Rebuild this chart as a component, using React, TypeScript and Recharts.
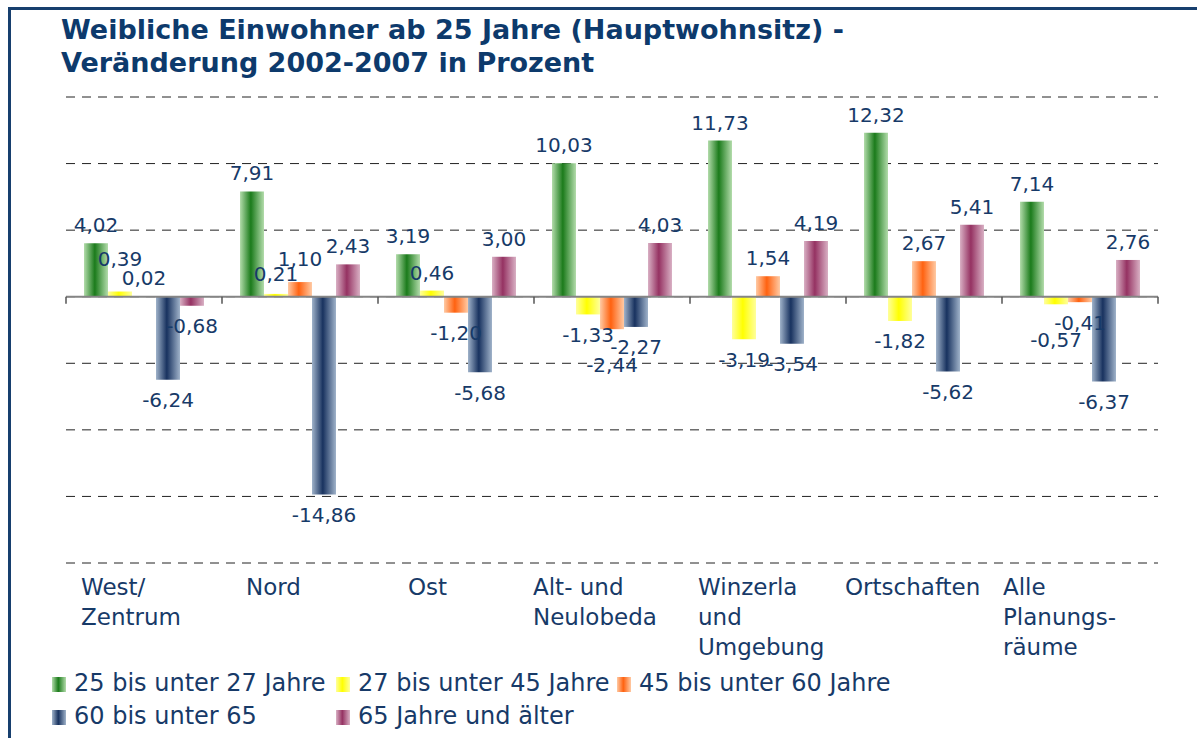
import React from "react";
import { BarChart, Bar, XAxis, YAxis, CartesianGrid, ReferenceLine, LabelList } from "recharts";

const CATEGORIES = ["West/ Zentrum", "Nord", "Ost", "Alt- und Neulobeda", "Winzerla und Umgebung", "Ortschaften", "Alle Planungsräume"];
const CATEGORY_LINES = [["West/", "Zentrum"], ["Nord"], ["Ost"], ["Alt- und", "Neulobeda"], ["Winzerla", "und", "Umgebung"], ["Ortschaften"], ["Alle", "Planungs-", "räume"]];

const AGE_25_27 = [4.02, 7.91, 3.19, 10.03, 11.73, 12.32, 7.14];
const AGE_27_45 = [0.39, 0.21, 0.46, -1.33, -3.19, -1.82, -0.57];
const AGE_45_60 = [0.02, 1.1, -1.2, -2.44, 1.54, 2.67, -0.41];
const AGE_60_65 = [-6.24, -14.86, -5.68, -2.27, -3.54, -5.62, -6.37];
const AGE_65_PLUS = [-0.68, 2.43, 3.0, 4.03, 4.19, 5.41, 2.76];

const SERIES_NAMES = ["25 bis unter 27 Jahre", "27 bis unter 45 Jahre", "45 bis unter 60 Jahre", "60 bis unter 65", "65 Jahre und älter"];
const Y_TICKS = [-20, -15, -10, -5, 0, 5, 10, 15];

const data = CATEGORIES.map((name, i) => ({
  name,
  a: AGE_25_27[i],
  b: AGE_27_45[i],
  c: AGE_45_60[i],
  d: AGE_60_65[i],
  e: AGE_65_PLUS[i],
}));

// edge colour / centre colour of the cylinder-like bars
const SERIES = [
  { key: "a", edge: "#b3dcab", mid: "#1b7b1b" },
  { key: "b", edge: "#ffff9c", mid: "#ffff00" },
  { key: "c", edge: "#ffcaa4", mid: "#ff6210" },
  { key: "d", edge: "#a0b3ca", mid: "#18325f" },
  { key: "e", edge: "#d9b0c4", mid: "#953262" },
];

// vertical nudges the original applied to crowded labels
const LABEL_DY = [
  [0, 0, 0, 0, 0, 0, 0],
  [-15, -2, 0, 0, 0, 0, 15],
  [0, -5, 0, 15, 0, 0, 0],
  [0, 0, 0, 0, 0, 0, 0],
  [0, 0, 0, 0, 0, 0, 0],
];

const TEXT = "#173a68";
const FONT = "'DejaVu Sans', Verdana, sans-serif";
const W = 1197;
const H = 738;
const PLOT_LEFT = 66;
const PLOT_RIGHT = 1158;
const PLOT_TOP = 97;
const PLOT_BOTTOM = 563;
const BAND = (PLOT_RIGHT - PLOT_LEFT) / CATEGORIES.length;
const TICK_INDENT = [15, 24, 30, -1, 8, -1, 1];

const fmt = (v: any) => Number(v).toFixed(2).replace(".", ",");

const makeLabel = (si: number) => (props: any) => {
  const vb = props.viewBox || props;
  const x = Number(vb.x);
  const y = Number(vb.y);
  const w = Number(vb.width);
  const h = Number(vb.height);
  const v = Number(props.value);
  const idx = props.index ?? 0;
  const top = Math.min(y, y + h);
  const bottom = Math.max(y, y + h);
  const cx = x + w / 2;
  const dy = LABEL_DY[si][idx] || 0;
  if (v >= 0) {
    return (
      <text x={cx} y={top - 11 + dy} textAnchor="middle" fill={TEXT} fontSize={20} fontFamily={FONT}>
        {fmt(v)}
      </text>
    );
  }
  return (
    <text x={cx} y={bottom + 13 + 14.5 + dy} textAnchor="middle" fill={TEXT} fontSize={20} fontFamily={FONT}>
      {fmt(v)}
    </text>
  );
};

function CategoryTick(props: any) {
  const { x, y, payload } = props;
  const i = payload.index;
  const left = x - BAND / 2 + TICK_INDENT[i];
  return (
    <text x={left} y={y} fill={TEXT} fontSize={23} fontFamily={FONT} textAnchor="start">
      {CATEGORY_LINES[i].map((line, k) => (
        <tspan key={k} x={left} y={y + 32 + k * 30}>
          {line}
        </tspan>
      ))}
    </text>
  );
}

function ZeroAxis(props: any) {
  const { x1, x2, y1 } = props;
  const n = CATEGORIES.length;
  const step = (x2 - x1) / n;
  return (
    <g>
      <line x1={x1} x2={x2} y1={y1} y2={y1} stroke="#858585" strokeWidth={2} />
      {Array.from({ length: n + 1 }, (_, i) => (
        <line key={i} x1={x1 + i * step} x2={x1 + i * step} y1={y1} y2={y1 + 7} stroke="#555" strokeWidth={1.5} />
      ))}
    </g>
  );
}

function LegendBox() {
  const cols = [52, 336, 617];
  return (
    <div style={{ position: "absolute", left: 0, top: 667, fontFamily: FONT, fontSize: 24, color: TEXT }}>
      {SERIES_NAMES.map((name, i) => {
        const s = SERIES[i];
        const row = Math.floor(i / 3);
        const col = i % 3;
        return (
          <div
            key={name}
            style={{ position: "absolute", left: cols[col], top: row * 33, height: 33, lineHeight: "33px", whiteSpace: "nowrap" }}
          >
            <span
              style={{
                position: "absolute",
                left: 0,
                top: 10,
                width: 14,
                height: 15,
                background: `linear-gradient(to right, ${s.edge}, ${s.mid} 45%, ${s.edge})`,
              }}
            />
            <span style={{ position: "absolute", left: 22, top: 0 }}>{name}</span>
          </div>
        );
      })}
    </div>
  );
}

export default function App() {
  return (
    <div style={{ position: "absolute", left: 0, top: 0, width: W, height: H, background: "#fff", overflow: "hidden" }}>
      <div
        style={{
          position: "absolute",
          left: 8,
          top: 7,
          width: W,
          height: H,
          borderLeft: "3px solid #173f6e",
          borderTop: "3px solid #173f6e",
        }}
      />
      <div
        style={{
          position: "absolute",
          left: 61,
          top: 13,
          fontFamily: FONT,
          fontWeight: "bold",
          fontSize: 27,
          lineHeight: "33px",
          color: "#0d3a6c",
          whiteSpace: "nowrap",
        }}
      >
        Weibliche Einwohner ab 25 Jahre (Hauptwohnsitz) -
        <br />
        Veränderung 2002-2007 in Prozent
      </div>
      <div style={{ position: "absolute", left: 0, top: 0 }}>
        <BarChart
          width={W}
          height={H}
          data={data}
          barGap={0}
          barCategoryGap={18}
          margin={{ top: PLOT_TOP, left: PLOT_LEFT, right: W - PLOT_RIGHT, bottom: H - PLOT_BOTTOM - 100 }}
        >
          <defs>
            {SERIES.map((s) => (
              <linearGradient key={s.key} id={`grad-${s.key}`} x1="0" y1="0" x2="1" y2="0">
                <stop offset="0%" stopColor={s.edge} />
                <stop offset="45%" stopColor={s.mid} />
                <stop offset="100%" stopColor={s.edge} />
              </linearGradient>
            ))}
          </defs>
          <CartesianGrid vertical={false} stroke="#222" strokeDasharray="9 7" />
          <YAxis hide domain={[-20, 15]} ticks={Y_TICKS} type="number" />
          <XAxis
            dataKey="name"
            interval={0}
            axisLine={false}
            tickLine={false}
            tickSize={0}
            tickMargin={0}
            height={100}
            tick={<CategoryTick />}
          />
          {SERIES.map((s, i) => (
            <Bar key={s.key} dataKey={s.key} name={SERIES_NAMES[i]} fill={`url(#grad-${s.key})`} isAnimationActive={false}>
              <LabelList dataKey={s.key} content={makeLabel(i)} />
            </Bar>
          ))}
          <ReferenceLine y={0} shape={<ZeroAxis />} />
        </BarChart>
      </div>
      <LegendBox />
    </div>
  );
}
